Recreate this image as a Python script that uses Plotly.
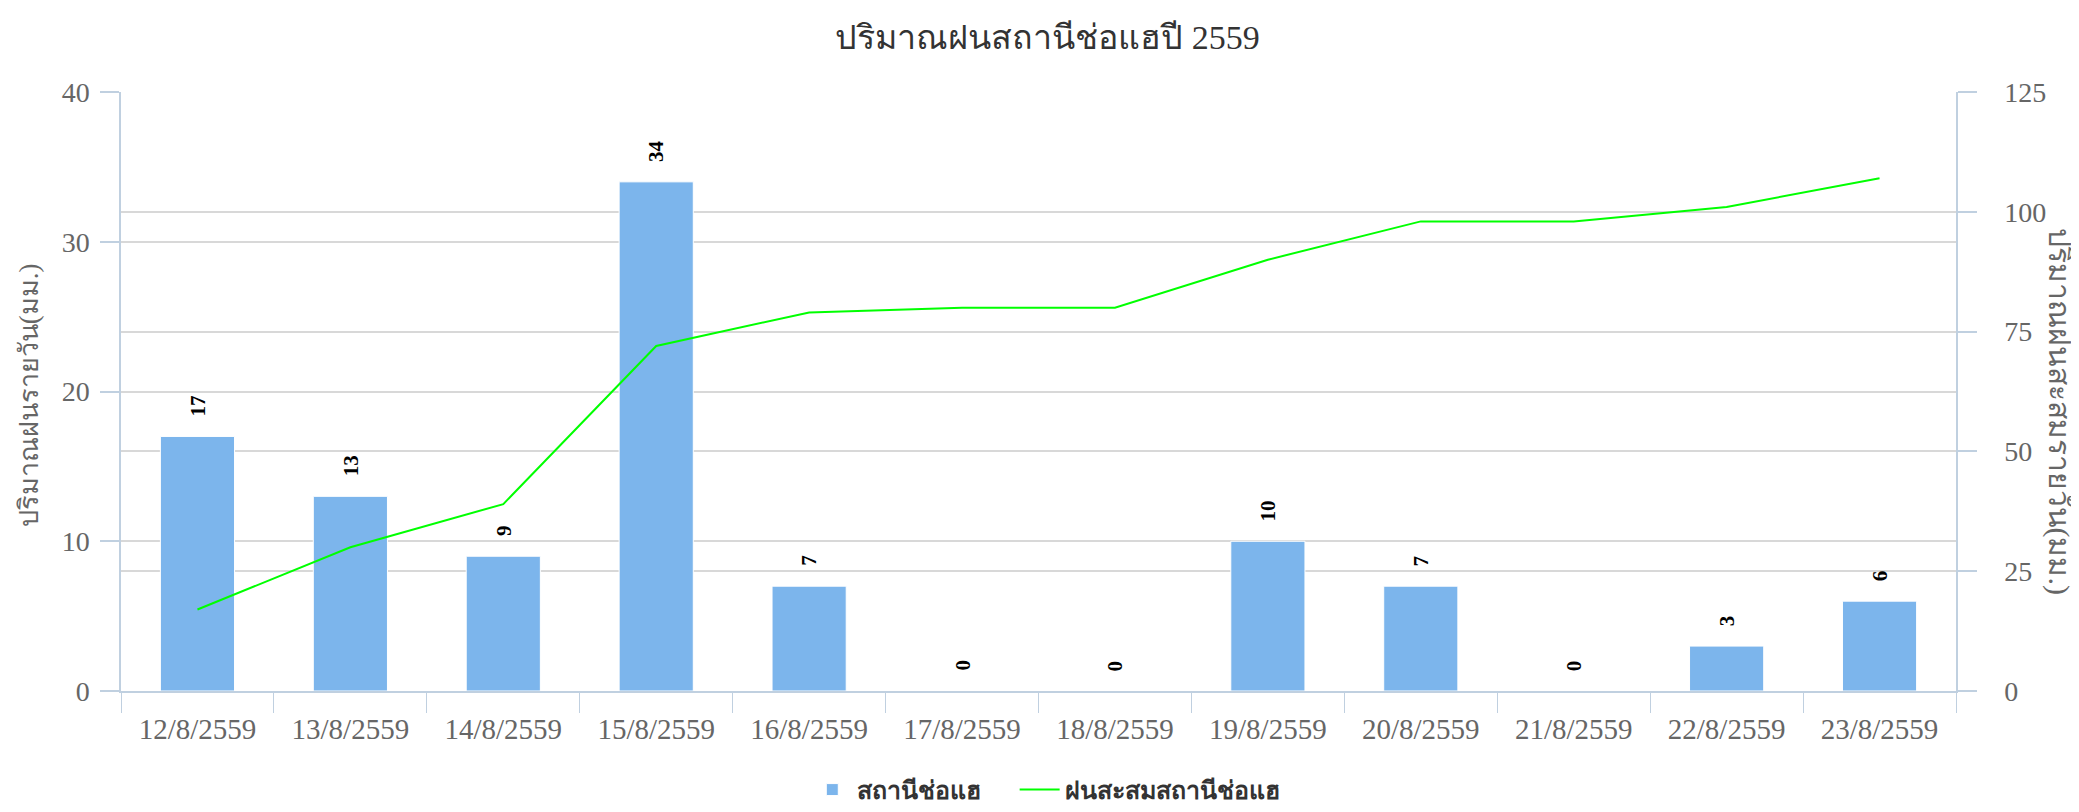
import plotly.graph_objects as go

# ---- data ----
categories = ["12/8/2559", "13/8/2559", "14/8/2559", "15/8/2559", "16/8/2559", "17/8/2559",
              "18/8/2559", "19/8/2559", "20/8/2559", "21/8/2559", "22/8/2559", "23/8/2559"]
daily_rain = [17, 13, 9, 34, 7, 0, 0, 10, 7, 0, 3, 6]
cumulative_rain = [17, 30, 39, 72, 79, 80, 80, 90, 98, 98, 101, 107]
left_ticks = [0, 10, 20, 30, 40]
right_ticks = [0, 25, 50, 75, 100, 125]

title_main = "ปริมาณฝนสถานีช่อแฮปี"
title_year = "2559"
bar_name = "สถานีช่อแฮ"
line_name = "ฝนสะสมสถานีช่อแฮ"
left_title = "ปริมาณฝนรายวัน(มม.)"
right_title = "ปริมาณฝนสะสมรายวัน(มม.)"

SERIF = "Liberation Serif, Times New Roman, serif"
SANS = "DejaVu Sans, Noto Sans, sans-serif"
AXIS_COLOR = "#C0D0E0"
GRID_COLOR = "#D8D8D8"

fig = go.Figure()
fig.add_trace(go.Bar(
    x=categories, y=daily_rain, name=bar_name,
    marker=dict(color="#7CB5EC", line=dict(color="#FFFFFF", width=1)),
    yaxis="y", hoverinfo="x+y", legend="legend",
))
fig.add_trace(go.Scatter(
    x=categories, y=cumulative_rain, name=line_name, mode="lines",
    line=dict(color="#00FF00", width=2), yaxis="y2", legend="legend2",
))

# data labels above bars (rotated)
for c, v in zip(categories, daily_rain):
    fig.add_annotation(
        x=c, y=v, xref="x", yref="y", text=f"<b>{v}</b>", showarrow=False,
        textangle=-90, yanchor="bottom", xanchor="center", yshift=18,
        font=dict(family=SERIF, size=21, color="#000000"),
    )

# axis titles
fig.add_annotation(
    x=-0.05, y=0.494, xref="paper", yref="paper", text=left_title, showarrow=False,
    textangle=-90, xanchor="center", yanchor="middle",
    font=dict(family=SERIF, size=27, color="#666666"),
)
fig.add_annotation(
    x=1.056, y=0.467, xref="paper", yref="paper", text=right_title, showarrow=False,
    textangle=90, xanchor="center", yanchor="middle",
    font=dict(family=SERIF, size=30, color="#666666"),
)

title_html = f'{title_main} <span style="font-family:Liberation Serif">{title_year}</span>'
legend_font = dict(family=SANS, size=25, color="#333333", weight="bold")

fig.update_layout(
    width=2079, height=812,
    paper_bgcolor="#FFFFFF", plot_bgcolor="#FFFFFF",
    # page body has an 8px margin: compensate so plot area lands at x 121-1956, y 92-691
    margin=dict(l=113, r=131, t=84, b=129, autoexpand=False),
    title=dict(text=title_html, x=0.5, xanchor="center", y=0.964, yanchor="middle",
               font=dict(family=SERIF, size=34, color="#333333")),
    bargap=0.515,
    showlegend=True,
    legend=dict(orientation="h", x=0.374, xanchor="left", y=-0.165, yanchor="middle",
                font=legend_font, itemwidth=40),
    legend2=dict(orientation="h", x=0.487, xanchor="left", y=-0.165, yanchor="middle",
                 font=legend_font, itemwidth=40),
    xaxis=dict(
        type="category", categoryorder="array", categoryarray=categories,
        showline=True, linecolor=AXIS_COLOR, linewidth=2,
        ticks="outside", tickson="boundaries", ticklen=20, tickcolor=AXIS_COLOR, tickwidth=1,
        showgrid=False, tickfont=dict(family=SERIF, size=29, color="#666666"),
        ticklabelstandoff=11, zeroline=False,
    ),
    yaxis=dict(
        range=[0, 40], tickvals=left_ticks, showgrid=True, gridcolor=GRID_COLOR, gridwidth=1.5,
        showline=True, linecolor=AXIS_COLOR, linewidth=1.5,
        ticks="outside", ticklen=19, tickcolor=AXIS_COLOR, tickwidth=1.5,
        tickfont=dict(family=SERIF, size=28, color="#666666"), ticklabelstandoff=5,
        zeroline=False,
    ),
    yaxis2=dict(
        range=[0, 125], tickvals=right_ticks, overlaying="y", side="right",
        showgrid=True, gridcolor=GRID_COLOR, gridwidth=1.5,
        showline=True, linecolor=AXIS_COLOR, linewidth=1.5,
        ticks="outside", ticklen=19, tickcolor=AXIS_COLOR, tickwidth=1.5,
        tickfont=dict(family=SERIF, size=28, color="#666666"), ticklabelstandoff=22,
        zeroline=False,
    ),
)

fig.write_html("out.html")
